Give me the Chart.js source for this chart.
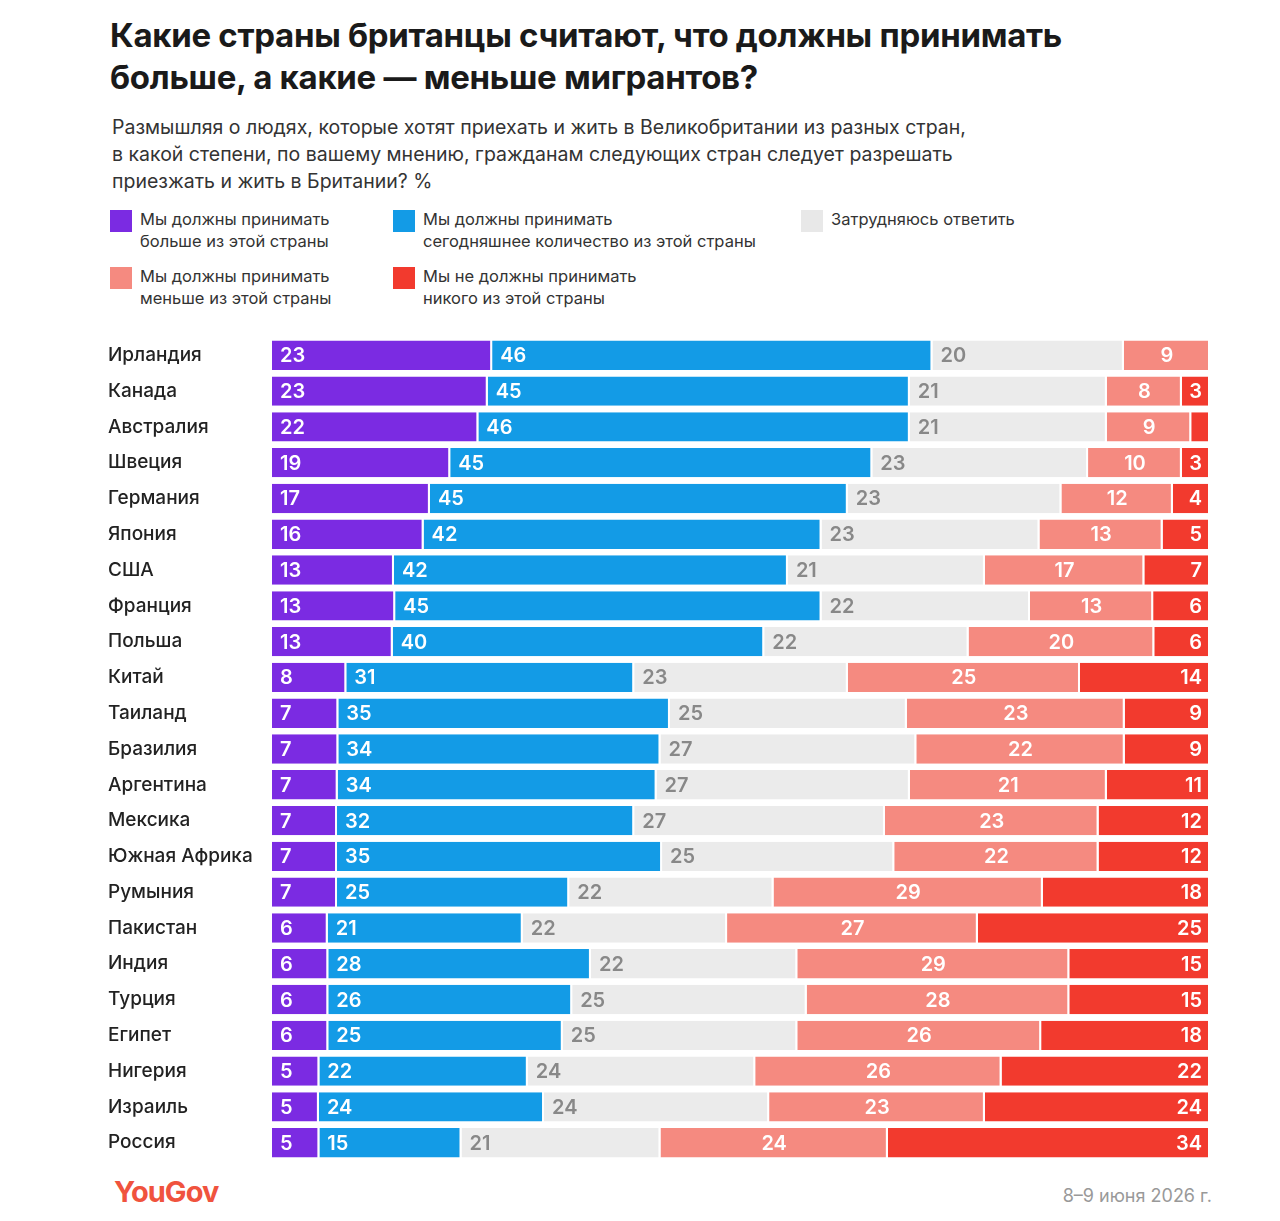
<!DOCTYPE html>
<html><head><meta charset="utf-8">
<script src="https://cdn.jsdelivr.net/npm/chart.js@4"></script>
<style>
body{margin:0;background:#fff;font-family:Inter,Roboto,sans-serif;color:#1a1a1a;width:1280px;height:1221px;position:relative;overflow:hidden}
h1{position:absolute;left:110px;top:14px;margin:0;font-size:33px;line-height:42px;font-weight:700;letter-spacing:-0.3px}
.sub{position:absolute;left:112px;top:114px;font-size:19.5px;line-height:27px;color:#333}
.lg{position:absolute;font-size:16.5px;line-height:22px;color:#333;padding-left:30px}
.lg i{position:absolute;left:0;top:2px;width:22px;height:22px}
#wrap{position:absolute;left:108px;top:326px;width:1102px;height:846px}
.yg{position:absolute;left:114px;top:1174px;font-size:29px;font-weight:700;color:#f0533e;letter-spacing:-1px}
.date{position:absolute;right:68px;top:1185px;font-size:18px;color:#999}
</style></head><body>
<h1>Какие страны британцы считают, что должны принимать<br>больше, а какие — меньше мигрантов?</h1>
<div class="sub">Размышляя о людях, которые хотят приехать и жить в Великобритании из разных стран,<br>в какой степени, по вашему мнению, гражданам следующих стран следует разрешать<br>приезжать и жить в Британии? %</div>
<div class="lg" style="left:110px;top:208px"><i style="background:#7b2be2"></i>Мы должны принимать<br>больше из этой страны</div>
<div class="lg" style="left:393px;top:208px"><i style="background:#139be6"></i>Мы должны принимать<br>сегодняшнее количество из этой страны</div>
<div class="lg" style="left:801px;top:208px"><i style="background:#e8e8e8"></i>Затрудняюсь ответить</div>
<div class="lg" style="left:110px;top:265px"><i style="background:#f58a80"></i>Мы должны принимать<br>меньше из этой страны</div>
<div class="lg" style="left:393px;top:265px"><i style="background:#f23a2e"></i>Мы не должны принимать<br>никого из этой страны</div>
<div id="wrap"><canvas id="c"></canvas></div>
<div class="yg">YouGov</div>
<div class="date">8–9 июня 2026 г.</div>
<script>
const countries=["Ирландия","Канада","Австралия","Швеция","Германия","Япония","США","Франция","Польша","Китай","Таиланд","Бразилия","Аргентина","Мексика","Южная Африка","Румыния","Пакистан","Индия","Турция","Египет","Нигерия","Израиль","Россия"];
const more=[23,23,22,19,17,16,13,13,13,8,7,7,7,7,7,7,6,6,6,6,5,5,5];
const same=[46,45,46,45,45,42,42,45,40,31,35,34,34,32,35,25,21,28,26,25,22,24,15];
const dontKnow=[20,21,21,23,23,23,21,22,22,23,25,27,27,27,25,22,22,22,25,25,24,24,21];
const less=[9,8,9,10,12,13,17,13,20,25,23,22,21,23,22,29,27,29,28,26,26,23,24];
const none=[0,3,2,3,4,5,7,6,6,14,9,9,11,12,12,18,25,15,15,18,22,24,34];
const raw=[more,same,dontKnow,less,none];
const totals=countries.map((_,i)=>raw.reduce((s,a)=>s+a[i],0));
const colors=["#7b2be2","#139be6","#ebebeb","#f58a80","#f23a2e"];
const names=["Больше","Столько же","Затрудняюсь","Меньше","Никого"];
const ds=raw.map((a,k)=>({label:names[k],raw:a,data:a.map((v,i)=>v/totals[i]*100),backgroundColor:colors[k],borderColor:'#fff',borderWidth:{left:0,right:2,top:0,bottom:0},borderSkipped:false,barPercentage:0.82,categoryPercentage:1}));
const labelPlugin={id:'lbl',afterDatasetsDraw(ch){const c=ch.ctx;c.save();c.font='600 20px Inter, Roboto, sans-serif';c.textBaseline='middle';
ch.data.datasets.forEach((d,k)=>{ch.getDatasetMeta(k).data.forEach((b,i)=>{const v=d.raw[i];if(v<3)return;const l=b.base,r=b.x;
c.fillStyle=k==2?'#888':'#fff';
if(k<=2){c.textAlign='left';c.fillText(v,l+8,b.y+1);}
else if(k==3){c.textAlign='center';c.fillText(v,(l+r)/2,b.y+1);}
else{c.textAlign='right';c.fillText(v,r-8,b.y+1);}});});c.restore();}};
new Chart(document.getElementById('c'),{type:'bar',data:{labels:countries,datasets:ds},
options:{indexAxis:'y',responsive:true,maintainAspectRatio:false,animation:false,layout:{padding:0},
plugins:{legend:{display:false},tooltip:{enabled:false}},
scales:{x:{stacked:true,min:0,max:100,display:false},
y:{stacked:true,grid:{display:false},border:{display:false},afterFit(s){s.width=164;},
ticks:{crossAlign:'far',padding:0,color:'#222',font:{family:'Inter, Roboto, sans-serif',size:19,weight:'500'}}}}},
plugins:[labelPlugin]});
</script></body></html>
